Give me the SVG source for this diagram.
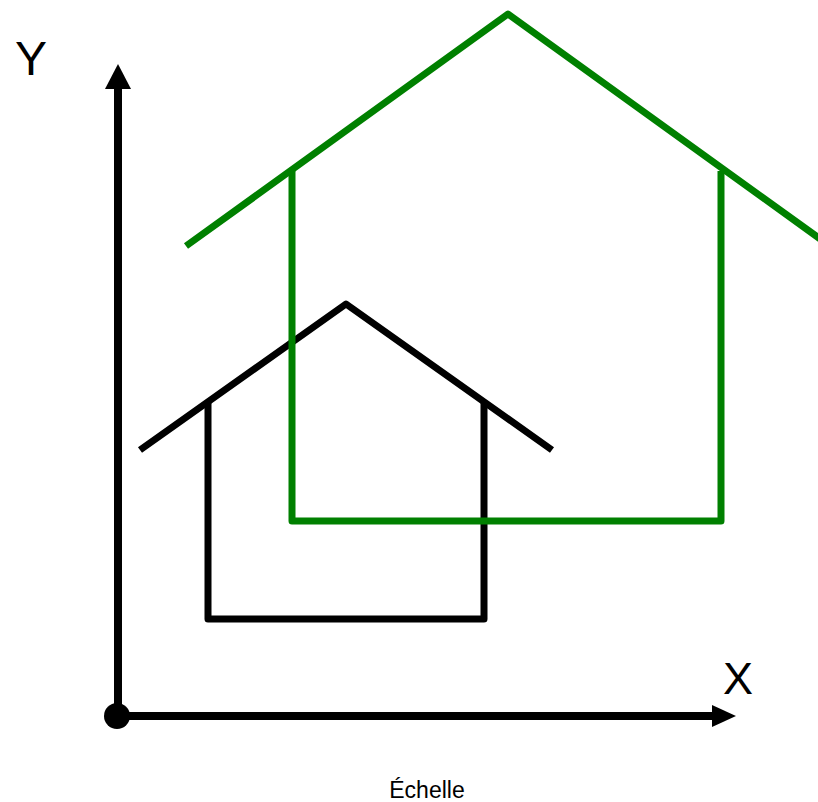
<svg xmlns="http://www.w3.org/2000/svg" width="818" height="802" viewBox="0 0 818 802">
<style>
.ax{stroke:#000;stroke-width:8;fill:none}
.blk{stroke:#000;stroke-width:7;fill:none;stroke-linejoin:round}
.grn{stroke:#008000;stroke-width:7;fill:none;stroke-linejoin:round}
text{font-family:"Liberation Sans",Arial,sans-serif;fill:#000}
</style>
<rect width="818" height="802" fill="#fff"/>
<g id="connectors">
<line class="ax" x1="118" y1="716" x2="118" y2="88"/>
<polygon points="118,64 105,89 131,89" fill="#000"/>
<line class="ax" x1="118" y1="716" x2="714" y2="716"/>
<polygon points="736,716 712,705 712,727" fill="#000"/>
<circle cx="117" cy="716" r="13" fill="#000"/>
</g>
<g id="house-small">
<polyline class="blk" points="140,450 346,304 552,450"/>
<polyline class="blk" points="208,402 208,619 484,619 484,402"/>
</g>
<g id="house-large">
<polyline class="grn" points="186,246 508,14 830,246"/>
<polyline class="grn" points="292,171 292,521 721,521 721,171"/>
</g>
<g id="labels">
<text x="31" y="75" font-size="48" text-anchor="middle">Y</text>
<text x="738" y="694" font-size="45" text-anchor="middle">X</text>
<text x="427" y="798" font-size="23" text-anchor="middle">Échelle</text>
</g>
</svg>
